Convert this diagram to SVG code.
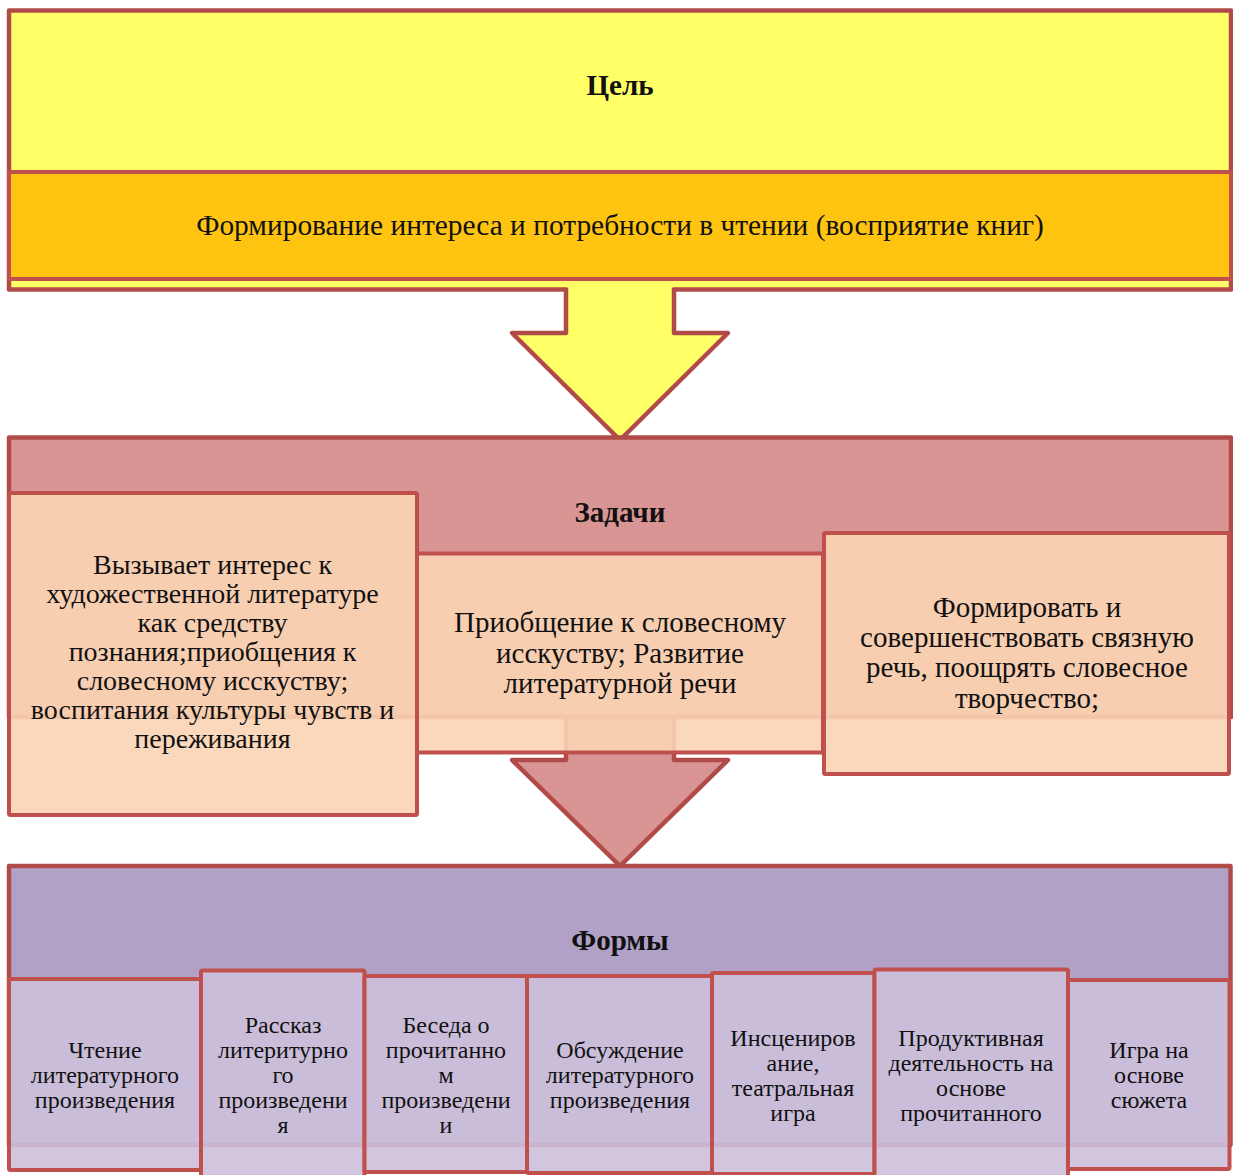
<svg xmlns="http://www.w3.org/2000/svg" width="1233" height="1175" viewBox="0 0 1233 1175">
<style>
text{font-family:"Liberation Serif","Times New Roman",serif;fill:#111;text-anchor:middle}
.h{font-size:29px;font-weight:bold}
.t29{font-size:29px}
.t28{font-size:28px}
.t24{font-size:24px}
.outer{stroke:#B04B49;stroke-width:4.5;stroke-linejoin:round}
.child{stroke:#C0504D;stroke-width:4;stroke-linejoin:round}
.task{fill:#FBD4B4;fill-opacity:0.9}
.form{fill:#CCC0DA;fill-opacity:0.9}
</style>
<rect width="1233" height="1175" fill="#FFFFFF"/>

<g id="goal">
<rect class="outer" x="9" y="10.5" width="1222" height="279" fill="#FFFF66"/>
<rect x="9" y="172" width="1222" height="107" fill="#FFC40F" stroke="#C0504D" stroke-width="4"/>
<text class="h" x="620" y="95">Цель</text>
<text class="t29" x="620" y="235" style="font-size:29.4px">Формирование интереса и потребности в чтении (восприятие книг)</text>
</g>

<g id="connectors">
<g id="arrow1">
<polygon points="566,282 566,333 512,333 620,440 728,333 674,333 674,282" fill="#FFFF66"/>
<polyline class="outer" points="566,287.5 566,333 512,333 620,440 728,333 674,333 674,287.5" fill="none"/>
</g>
</g>

<g id="tasks">
<rect class="outer" x="9" y="437.5" width="1222" height="279.5" fill="#D99594"/>
<g id="arrow2">
<polygon class="outer" points="566,717 566,760 512,760 620,866 728,760 674,760 674,717" fill="#D99594"/>
</g>
<text class="h" x="620" y="522">Задачи</text>
</g>

<g id="task-middle">
<rect class="child task" x="417" y="553.5" width="406" height="199" rx="1.5"/>
<text class="t29" x="620" y="632">Приобщение к словесному</text>
<text class="t29" x="620" y="662.5">исскуству; Развитие</text>
<text class="t29" x="620" y="693">литературной речи</text>
</g>
<g id="task-left">
<rect class="child task" x="9" y="493" width="408" height="322" rx="1.5"/>
<text class="t28" x="212.5" y="574">Вызывает интерес к</text>
<text class="t28" x="212.5" y="603">художественной литературе</text>
<text class="t28" x="212.5" y="632">как средству</text>
<text class="t28" x="212.5" y="661">познания;приобщения к</text>
<text class="t28" x="212.5" y="690">словесному исскуству;</text>
<text class="t28" x="212.5" y="719">воспитания культуры чувств и</text>
<text class="t28" x="212.5" y="748">переживания</text>
</g>
<g id="task-right">
<rect class="child task" x="824" y="533" width="405" height="241" rx="1.5"/>
<text class="t29" x="1027" y="617">Формировать и</text>
<text class="t29" x="1027" y="647">совершенствовать связную</text>
<text class="t29" x="1027" y="677">речь, поощрять словесное</text>
<text class="t29" x="1027" y="708">творчество;</text>
</g>

<g id="forms">
<rect class="outer" x="9" y="866" width="1221.5" height="279" fill="#B2A1C7"/>
<text class="h" x="620" y="950">Формы</text>
</g>

<g id="form-1">
<rect class="child form" x="9" y="979" width="192" height="191" rx="1.5"/>
<text class="t24" x="105" y="1058">Чтение</text>
<text class="t24" x="105" y="1083">литературного</text>
<text class="t24" x="105" y="1108">произведения</text>
</g>
<g id="form-2">
<rect class="child form" x="201" y="970.5" width="163.5" height="210" rx="1.5"/>
<text class="t24" x="283" y="1033">Рассказ</text>
<text class="t24" x="283" y="1058">литеритурно</text>
<text class="t24" x="283" y="1083">го</text>
<text class="t24" x="283" y="1108">произведени</text>
<text class="t24" x="283" y="1133">я</text>
</g>
<g id="form-3">
<rect class="child form" x="364.5" y="976" width="162.5" height="196" rx="1.5"/>
<text class="t24" x="446" y="1033">Беседа о</text>
<text class="t24" x="446" y="1058">прочитанно</text>
<text class="t24" x="446" y="1083">м</text>
<text class="t24" x="446" y="1108">произведени</text>
<text class="t24" x="446" y="1133">и</text>
</g>
<g id="form-4">
<rect class="child form" x="527" y="976" width="185" height="197" rx="1.5"/>
<text class="t24" x="620" y="1058">Обсуждение</text>
<text class="t24" x="620" y="1083">литературного</text>
<text class="t24" x="620" y="1108">произведения</text>
</g>
<g id="form-5">
<rect class="child form" x="712" y="973" width="162.5" height="201" rx="1.5"/>
<text class="t24" x="793" y="1046">Инсцениров</text>
<text class="t24" x="793" y="1071">ание,</text>
<text class="t24" x="793" y="1096">театральная</text>
<text class="t24" x="793" y="1121">игра</text>
</g>
<g id="form-6">
<rect class="child form" x="874.5" y="969.5" width="193.5" height="211" rx="1.5"/>
<text class="t24" x="971" y="1046">Продуктивная</text>
<text class="t24" x="971" y="1071">деятельность на</text>
<text class="t24" x="971" y="1096">основе</text>
<text class="t24" x="971" y="1121">прочитанного</text>
</g>
<g id="form-7">
<rect class="child form" x="1068" y="980" width="161.5" height="189" rx="1.5"/>
<text class="t24" x="1149" y="1058">Игра на</text>
<text class="t24" x="1149" y="1083">основе</text>
<text class="t24" x="1149" y="1108">сюжета</text>
</g>
</svg>
